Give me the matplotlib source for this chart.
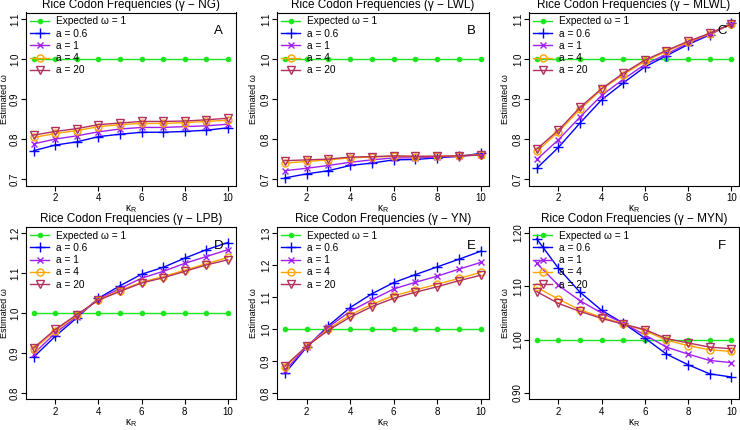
import matplotlib
matplotlib.use("Agg")
import matplotlib.pyplot as plt
import numpy as np

plt.rcParams['font.family'] = ['Liberation Sans', 'DejaVu Sans']
plt.rcParams['mathtext.fontset'] = 'custom'
plt.rcParams['mathtext.rm'] = 'Liberation Sans'

kappa = [1, 2, 3, 4, 5, 6, 7, 8, 9, 10]
series_labels = ["Expected \u03c9 = 1", "a = 0.6", "a = 1", "a = 4", "a = 20"]
expected = [1.0] * 10

panel_titles = ["Rice Codon Frequencies (\u03b3 \u2212 NG)",
                "Rice Codon Frequencies (\u03b3 \u2212 LWL)",
                "Rice Codon Frequencies (\u03b3 \u2212 MLWL)",
                "Rice Codon Frequencies (\u03b3 \u2212 LPB)",
                "Rice Codon Frequencies (\u03b3 \u2212 YN)",
                "Rice Codon Frequencies (\u03b3 \u2212 MYN)"]
panel_letters = ["A", "B", "C", "D", "E", "F"]

# Panel A (NG)
A_06 = [0.771, 0.785, 0.793, 0.806, 0.812, 0.817, 0.817, 0.819, 0.822, 0.828]
A_1 = [0.788, 0.800, 0.808, 0.818, 0.825, 0.829, 0.829, 0.831, 0.833, 0.837]
A_4 = [0.804, 0.814, 0.821, 0.831, 0.836, 0.839, 0.839, 0.841, 0.844, 0.847]
A_20 = [0.810, 0.819, 0.826, 0.836, 0.840, 0.844, 0.844, 0.845, 0.848, 0.852]
# Panel B (LWL)
B_06 = [0.703, 0.713, 0.721, 0.734, 0.740, 0.748, 0.749, 0.753, 0.757, 0.764]
B_1 = [0.721, 0.727, 0.734, 0.742, 0.748, 0.753, 0.753, 0.755, 0.757, 0.761]
B_4 = [0.740, 0.744, 0.748, 0.753, 0.755, 0.757, 0.756, 0.757, 0.758, 0.761]
B_20 = [0.746, 0.748, 0.750, 0.755, 0.756, 0.758, 0.757, 0.757, 0.758, 0.760]
# Panel C (MLWL)
C_06 = [0.727, 0.779, 0.840, 0.898, 0.940, 0.980, 1.008, 1.036, 1.060, 1.089]
C_1 = [0.749, 0.798, 0.855, 0.909, 0.949, 0.986, 1.012, 1.039, 1.062, 1.087]
C_4 = [0.769, 0.818, 0.874, 0.924, 0.961, 0.994, 1.019, 1.042, 1.063, 1.087]
C_20 = [0.775, 0.822, 0.879, 0.926, 0.964, 0.997, 1.021, 1.044, 1.064, 1.087]
# Panel D (LPB)
D_06 = [0.890, 0.942, 0.988, 1.037, 1.068, 1.097, 1.114, 1.137, 1.158, 1.176]
D_1 = [0.898, 0.950, 0.991, 1.035, 1.061, 1.087, 1.104, 1.124, 1.141, 1.158]
D_4 = [0.909, 0.956, 0.994, 1.033, 1.056, 1.077, 1.091, 1.107, 1.123, 1.139]
D_20 = [0.913, 0.959, 0.996, 1.032, 1.054, 1.075, 1.088, 1.104, 1.120, 1.133]
# Panel E (YN)
E_06 = [0.861, 0.943, 1.010, 1.067, 1.110, 1.145, 1.170, 1.194, 1.218, 1.243]
E_1 = [0.869, 0.945, 1.006, 1.055, 1.091, 1.125, 1.146, 1.165, 1.187, 1.208]
E_4 = [0.881, 0.946, 1.000, 1.044, 1.077, 1.104, 1.122, 1.140, 1.158, 1.177]
E_20 = [0.884, 0.946, 0.996, 1.037, 1.070, 1.096, 1.115, 1.132, 1.151, 1.168]
# Panel F (MYN)
F_06 = [1.189, 1.134, 1.089, 1.055, 1.031, 1.003, 0.973, 0.953, 0.936, 0.930]
F_1 = [1.143, 1.102, 1.073, 1.050, 1.031, 1.009, 0.986, 0.973, 0.961, 0.957]
F_4 = [1.098, 1.076, 1.056, 1.042, 1.030, 1.017, 0.999, 0.989, 0.981, 0.978]
F_20 = [1.090, 1.068, 1.053, 1.040, 1.029, 1.019, 1.002, 0.994, 0.986, 0.983]

panel_series = [[A_06, A_1, A_4, A_20], [B_06, B_1, B_4, B_20], [C_06, C_1, C_4, C_20],
                [D_06, D_1, D_4, D_20], [E_06, E_1, E_4, E_20], [F_06, F_1, F_4, F_20]]

yticks_A = [0.7, 0.8, 0.9, 1.0, 1.1]
yticks_D = [0.8, 0.9, 1.0, 1.1, 1.2]
yticks_E = [0.8, 0.9, 1.0, 1.1, 1.2, 1.3]
yticks_F = [0.90, 1.00, 1.10, 1.20]
panel_yticks = [yticks_A, yticks_A, yticks_A, yticks_D, yticks_E, yticks_F]
panel_ylabels = [["0.7", "0.8", "0.9", "1.0", "1.1"]] * 3 + \
    [["0.8", "0.9", "1.0", "1.1", "1.2"],
     ["0.8", "0.9", "1.0", "1.1", "1.2", "1.3"],
     ["0.90", "1.00", "1.10", "1.20"]]
xticks = [2, 4, 6, 8, 10]

green = '#1ee61e'
colors = ['#0000ff', '#a020f0', '#ffa500', '#b03060']
markers = ['+', 'x', 'o', 'v']
msizes = [7, 5, 5, 5.5]

W, H = 740, 430
fig = plt.figure(figsize=(W / 100, H / 100), dpi=100)

cols = [(26, 235.5), (277, 488.5), (529, 739)]
rows = [(12.5, 185.5), (226.6, 399.4)]
ylab_right = [8.9, 277 - 18.5, 529 - 18.5]


def px_axes(l, t, r, b):
    return fig.add_axes([l / W, 1 - b / H, (r - l) / W, (b - t) / H])


for i in range(6):
    l, r = cols[i % 3]
    t, b = rows[i // 3]
    ax = px_axes(l, t, r, b)
    ax.plot(kappa, expected, color=green, lw=1.0, marker='o', ms=3,
            mec=green, mfc=green, label=series_labels[0])
    for j in range(4):
        ax.plot(kappa, panel_series[i][j], color=colors[j], lw=1.0,
                marker=markers[j], ms=msizes[j], mfc='none', mec=colors[j],
                mew=1.0, label=series_labels[j + 1])
    yt = panel_yticks[i]
    lo, hi = yt[0], yt[-1]
    ext = (hi - lo) * 0.04
    ax.set_ylim(lo - ext, hi + ext)
    ax.set_xlim(1 - 0.36, 10 + 0.36)
    ax.set_yticks(yt)
    ax.set_yticklabels(panel_ylabels[i], rotation=90, va='center')
    ax.set_xticks(xticks)
    ax.tick_params(direction='out', length=3.5, width=0.8, labelsize=7.0)
    ax.tick_params(axis='y', pad=0.8)
    ax.tick_params(axis='x', pad=1.8)
    for s in ax.spines.values():
        s.set_linewidth(0.8)
    ax.set_title(panel_titles[i], fontsize=8.5, pad=3)
    ax.set_ylabel("Estimated \u03c9", fontsize=6.5)
    ax.yaxis.set_label_coords((ylab_right[i % 3] - l) / (r - l), 0.5)
    ax.set_xlabel("\u03ba$_\\mathregular{R}$", fontsize=7.3, labelpad=0)
    ax.text(1 - 17 / (r - l), 1 - 19 / (b - t), panel_letters[i], transform=ax.transAxes,
            fontsize=9.5, ha='center', va='center')
    ax.legend(loc='upper left', bbox_to_anchor=(4 / (r - l), 1 - 4 / (b - t)),
              frameon=False, fontsize=7.3, handlelength=1.9, handletextpad=0.65,
              labelspacing=0.22, borderpad=0, borderaxespad=0)

fig.savefig("out.png", dpi=100)
